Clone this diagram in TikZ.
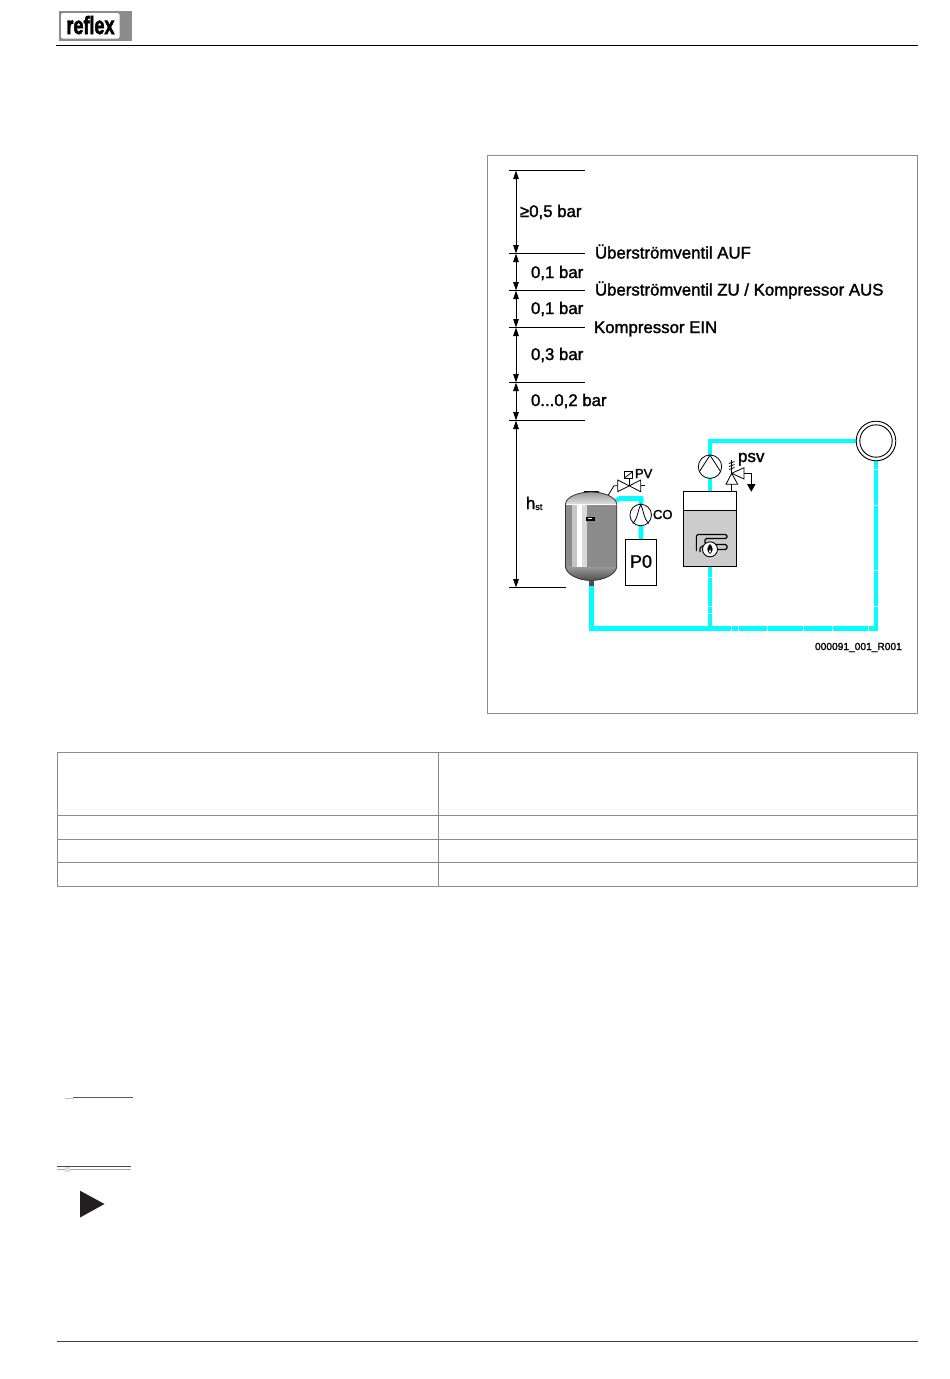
\documentclass[tikz,border=0pt]{standalone}
\usepackage{fontspec}
\usepackage{graphicx}
\setmainfont{Liberation Sans}
\newfontfamily\fbf[FakeBold=1.6]{Liberation Sans}
\newfontfamily\logof[BoldFont={Liberation Sans},FakeBold=2.5]{Liberation Sans Bold}
\usetikzlibrary{arrows.meta}
\definecolor{pipe}{HTML}{00FFFF}
\definecolor{rulegray}{HTML}{8C8C8C}
\definecolor{tipdark}{HTML}{231F20}
\tikzset{
  x=1pt,y=-1pt,
  dimline/.style={line width=0.8pt,black},
  dimarrow/.style={line width=0.8pt,black,{Triangle[length=8.5pt,width=5.5pt]}-{Triangle[length=8.5pt,width=5.5pt]}},
  lab/.style={anchor=base west,inner sep=0pt,outer sep=0pt,font=\fbf\fontsize{16.8}{16.8}\selectfont},
  smalllab/.style={anchor=base west,inner sep=0pt,outer sep=0pt,font=\fbf\fontsize{13}{13}\selectfont},
  pipeline/.style={pipe,line width=4.6pt,line join=miter},
  gap/.style={white,line width=0.9pt},
  sym/.style={black,line width=0.8pt},
  tbl/.style={rulegray,line width=0.9pt},
}
\begin{document}
\begin{tikzpicture}
\useasboundingbox (0,0) rectangle (950,1379);
\fill[white] (0,0) rectangle (950,1379);
% header
\fill[rulegray] (59,11) rectangle (132,41);
\fill[white,rounded corners=2pt] (61,13) rectangle (119.5,38.5);
\node[anchor=base,inner sep=0pt,font=\logof\fontsize{25}{25}\selectfont] (logo) at (90.5,34) {\scalebox{0.72}[1]{reflex}};
\draw[black,line width=1pt] (56,45.5) -- (918,45.5);
% frame
\draw[rulegray,line width=1pt] (487.5,155.5) rectangle (917.5,713.5);
% dimension levels
\foreach \n/\y in {a/170.5,b/253.5,c/290.5,d/327.5,e/382.5,f/420.5}{
  \coordinate (L\n) at (509,\y);
  \coordinate (R\n) at (585,\y);
  \draw[dimline] (L\n) -- (R\n);
}
\coordinate (Lg) at (509,587.5); \coordinate (Rg) at (566,587.5);
\draw[dimline] (Lg) -- (Rg);
\foreach \n/\y in {a/170.5,b/253.5,c/290.5,d/327.5,e/382.5,f/420.5,g/587.5}{
  \coordinate (M\n) at (516,\y);
}
\draw[dimarrow] (Ma) -- (Mb);
\draw[dimarrow] (Mb) -- (Mc);
\draw[dimarrow] (Mc) -- (Md);
\draw[dimarrow] (Md) -- (Me);
\draw[dimarrow] (Me) -- (Mf);
\draw[dimarrow] (Mf) -- (Mg);
\node[lab] (t1) at (520,217) {≥0,5 bar};
\node[lab] (t2) at (531,278) {0,1 bar};
\node[lab] (t3) at (531,314) {0,1 bar};
\node[lab] (t4) at (531,360) {0,3 bar};
\node[lab] (t5) at (531,406) {0...0,2 bar};
\node[lab] (t6) at (595,258.5) {Überströmventil AUF};
\node[lab] (t7) at (595,295.5) {Überströmventil ZU / Kompressor AUS};
\node[lab] (t8) at (594,333) {Kompressor EIN};
\node[lab] (t9) at (526,509) {h\raisebox{-1pt}{\fontsize{9}{9}\selectfont st}};
% pipes
\draw[pipeline] (591.7,584) -- (591.7,628.5) -- (876,628.5) -- (876,459);
\draw[pipeline] (710,628.5) -- (710,441) -- (858,441);
\draw[pipeline] (616,500.5) -- (620,498.5) -- (641,498.5) -- (641,540);
\foreach \x in {731.7,738.3,767.3,803.3,832.3,868.3}{\draw[gap] (\x,626) -- (\x,631);}
\foreach \y in {469.3,505.7,570.7,606}{\draw[gap] (873.5,\y) -- (878.5,\y);}
\foreach \y in {577,606.7,613}{\draw[gap] (707.5,\y) -- (712.5,\y);}
% expansion vessel
\coordinate (TL) at (565.5,504);
\coordinate (TR) at (616.7,504);
\fill[black] (583,492.8) -- (584.5,491) -- (598,491) -- (600,492.8) -- cycle;
\begin{scope}
\clip (565.5,504) .. controls (566,497) and (578,492) .. (591,492) .. controls (604,492) and (616,497) .. (616.7,504) -- cycle;
\shade[top color=gray!85,bottom color=gray!25] (565,491) rectangle (617,504);
\end{scope}
\fill[rulegray] (565.5,504) rectangle (616.7,567);
\fill[gray!90] (565.5,504) rectangle (572,567);
\fill[gray!45] (572,504) rectangle (576.7,567);
\fill[white] (576.7,504) rectangle (581.7,567);
\fill[gray!30] (581.7,504) rectangle (586.7,567);
\begin{scope}
\clip (565.5,567) .. controls (566,574) and (578,580.5) .. (591,580.5) .. controls (604,580.5) and (616,574) .. (616.7,567) -- cycle;
\shade[top color=gray!80,bottom color=black!70] (565,567) rectangle (617,581);
\end{scope}
\draw[white,line width=0.8pt] (TL) -- (TR);
\draw[black!80,line width=0.8pt] (565.5,504) .. controls (566,497) and (578,492) .. (591,492) .. controls (604,492) and (616,497) .. (616.7,504) -- (616.7,567) .. controls (616,574) and (604,580.5) .. (591,580.5) .. controls (578,580.5) and (566,574) .. (565.5,567) -- cycle;
\fill[black!70] (589,580) rectangle (593.5,586);
\fill[black] (586,516.5) rectangle (595,520.5);
\fill[white] (588,517.5) rectangle (592,518.5);
% compressor
\node[draw=black,line width=0.8pt,fill=white,circle,minimum size=21.5pt,inner sep=0pt] (co) at (640.7,515) {};
\draw[sym] (633,523.5) .. controls (638,518) and (637.5,511) .. (640.7,504.5) .. controls (643.9,511) and (643.4,518) .. (648.5,523.5);
\node[smalllab] (colab) at (653,519) {CO};
% P0
\node[draw=black,line width=0.8pt,fill=white,minimum width=31.4pt,minimum height=46.4pt,inner sep=0pt] (p0) at (641,562.5) {};
\node[inner sep=0pt,font=\fbf\fontsize{18}{18}\selectfont] (p0t) at (641,561.5) {P0};
% PV valve
\coordinate (pvc) at (629.3,485.7);
\draw[sym,fill=white] (617.7,480) -- (640.7,491.7) -- (640.7,480) -- (617.7,491.7) -- cycle;
\draw[sym] (608.3,495) -- (614,485.7) -- (617.7,485.7);
\draw[sym] (640.7,485.7) -- (645,485.7);
\draw[sym] (pvc) -- (629.3,478.3);
\draw[sym] (624,471.7) rectangle (632.7,478.3);
\draw[sym] (624,478.3) -- (632.7,471.7);
\node[smalllab] (pvlab) at (635,478) {PV};
% pump
\node[draw=black,line width=0.8pt,fill=white,circle,minimum size=23.4pt,inner sep=0pt] (pump) at (710,466.7) {};
\draw[sym] (699.5,471.5) -- (710,455.2) -- (720.5,471.5);
% boiler
\fill[white] (683.3,491.7) rectangle (736.7,510);
\fill[gray!40] (683.3,510) rectangle (736.7,566);
\draw[black,line width=1pt] (683.3,491.7) rectangle (736.7,566);
\draw[black,line width=0.8pt] (683.3,510) -- (736.7,510);
\draw[black,line width=1.1pt,rounded corners=1.5pt] (696.3,551) -- (696.3,534.5) -- (727,534.5) -- (727,538.5) -- (705,538.5) -- (705,543);
\draw[black,line width=1.1pt,rounded corners=1.5pt] (700,552) -- (700,547) -- (706,545);
\draw[black,line width=1.1pt,rounded corners=1.5pt] (714,544.5) -- (727,544.5) -- (727,549.5) -- (716,549.5);
\node[draw=black,line width=0.9pt,fill=white,circle,minimum size=15pt,inner sep=0pt] (burner) at (710,549.3) {};
\fill[black] (710,544) .. controls (713,547) and (714,551) .. (710,554) .. controls (706,551) and (707,547) .. (710,544) -- cycle;
\fill[white] (710,549) .. controls (711.5,551) and (711,552.5) .. (710,553) .. controls (709,552.5) and (708.5,551) .. (710,549) -- cycle;
% safety valve
\draw[sym] (731.7,473.3) -- (726,484.3) -- (737.7,484.3) -- cycle;
\draw[sym] (731.7,473.3) -- (744,467.7) -- (744,479) -- cycle;
\draw[sym] (731.7,484.3) -- (731.7,491.7);
\draw[sym] (731.7,460) -- (731.7,473.3);
\draw[sym] (729,463.5) -- (734.5,461.5);
\draw[sym] (729,466.5) -- (734.5,464.5);
\draw[sym] (729,469.5) -- (734.5,467.5);
\draw[sym] (744,473.3) -- (751.3,473.3) -- (751.3,484);
\fill[black] (747,484) -- (755.6,484) -- (751.3,491.7) -- cycle;
\node[lab,font=\fbf\fontsize{17}{17}\selectfont] (psv) at (738,462) {psv};
% expansion circle
\node[draw=black,line width=0.9pt,fill=white,circle,minimum size=39.6pt,inner sep=0pt] (consumer) at (876,441) {};
\node[draw=black,line width=0.9pt,circle,minimum size=32.4pt,inner sep=0pt] (consumerin) at (876,441) {};
\node[anchor=base east,inner sep=0pt,font=\fbf\fontsize{10.2}{10.2}\selectfont] (code) at (902,650) {000091\_001\_R001};
% table
\draw[tbl] (57.5,752.5) rectangle (917.5,886.5);
\draw[tbl] (438.5,752.5) -- (438.5,886.5);
\draw[tbl] (57.5,815.5) -- (917.5,815.5);
\draw[tbl] (57.5,839) -- (917.5,839);
\draw[tbl] (57.5,862.5) -- (917.5,862.5);
% lower marks
\draw[gray!50,line width=0.8pt] (65,1098) -- (73,1098);
\draw[black!65,line width=1pt] (73,1097) -- (133,1097);
\draw[black!70,line width=0.8pt] (57,1166.8) -- (131,1166.8);
\draw[gray!70,line width=0.8pt] (57,1169) -- (131,1169);
\fill[gray!25] (65,1167) rectangle (70,1172);
\fill[tipdark] (80,1190.7) -- (104.5,1204) -- (80,1217.5) -- cycle;
\draw[black!75,line width=0.9pt] (57,1341) -- (918,1341);
\end{tikzpicture}
\end{document}
